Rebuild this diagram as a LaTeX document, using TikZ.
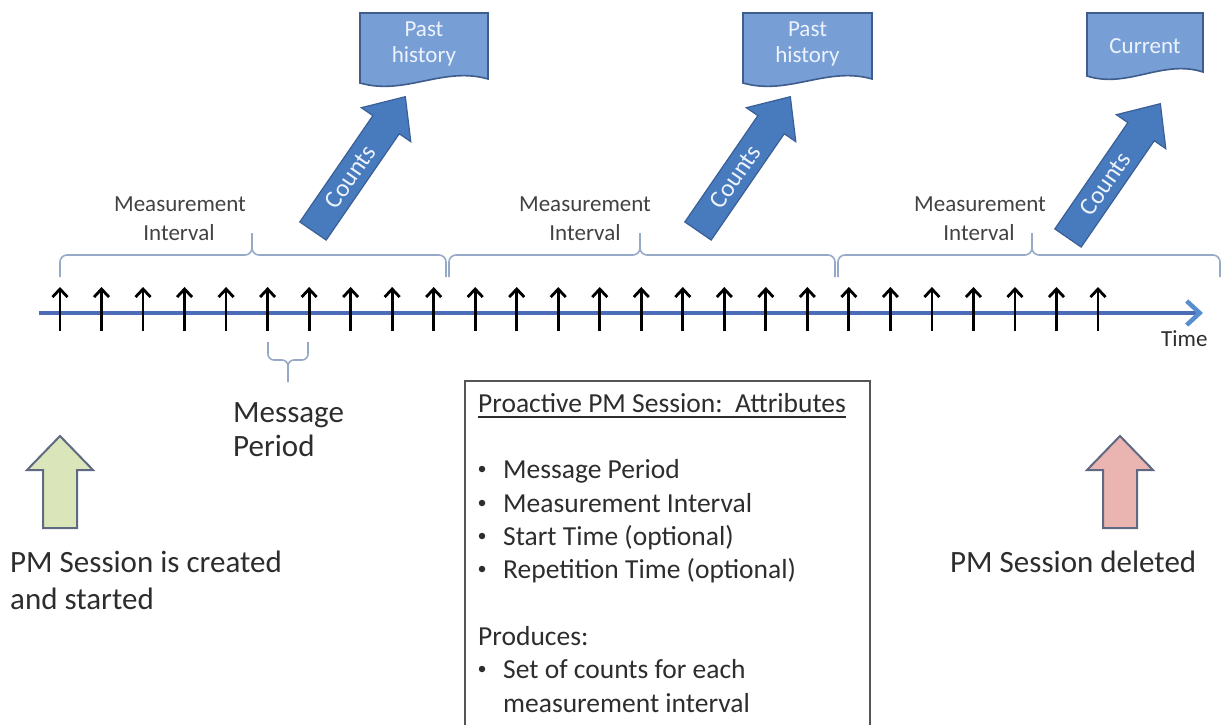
\documentclass[tikz,border=0pt]{standalone}
\usepackage{fontspec}
\setmainfont{Carlito}
\usetikzlibrary{arrows.meta}
\definecolor{txt}{RGB}{45,45,45}
\definecolor{lineblue}{RGB}{75,108,182}
\definecolor{headblue}{RGB}{88,142,208}
\definecolor{bracec}{RGB}{150,170,200}
\definecolor{docfill}{RGB}{120,158,214}
\definecolor{docdraw}{RGB}{62,92,140}
\definecolor{docfont}{RGB}{236,243,252}
\definecolor{cntfill}{RGB}{72,122,190}
\definecolor{cntdraw}{RGB}{58,95,150}
\definecolor{startfill}{RGB}{218,230,186}
\definecolor{endfill}{RGB}{234,180,176}
\definecolor{fatdraw}{RGB}{95,105,130}
\definecolor{boxdraw}{RGB}{85,85,85}
\newcommand\fs[1]{\fontsize{#1}{#1}\selectfont}
\newcommand\upbrace[3]{%
  \draw[brc] (#1,277) -- (#1,255) -- (#3,255) -- (#3,233);
  \draw[brc] (#2,277) -- (#2,255) -- (#3,255) -- (#3,233);}
\newcommand\countsarrow[2]{%
  \begin{scope}[shift={#2}, rotate=55.5]
    \draw[cnt] (0,-16) -- (129,-16) -- (129,-30) -- (163,0) -- (129,30) -- (129,16) -- (0,16) -- cycle;
    \node[cnttxt] (#1) at (66,0) {Counts};
  \end{scope}}
\newcommand\docshape[5]{% x0, x1, yleft, yright, name
  \draw[doc] (#1,13) -- (#2,13) -- (#2,#4)
    .. controls ({#2-0.35*(#2-#1)},{#4-13}) and ({#1+0.35*(#2-#1)},{#3+13}) .. (#1,#3) -- cycle;
  \coordinate (#5) at ({(#1+#2)/2},13);}
\begin{document}
\begin{tikzpicture}[x=1pt,y=-1pt,
  lbl/.style={inner sep=0pt, anchor=base west, text=txt, font=\fs{31}},
  mlbl/.style={inner sep=0pt, anchor=base, text=txt!90!white, font=\fs{23}},
  boxtxt/.style={inner sep=0pt, anchor=base west, text=txt, font=\fs{27.5}},
  bullet/.style={circle, fill=txt, inner sep=0pt, minimum size=6.5pt},
  doctxt/.style={inner sep=0pt, anchor=base, text=docfont, font=\fs{23}},
  cnttxt/.style={inner sep=0pt, rotate=55.5, text=docfont, font=\fs{25}},
  brc/.style={draw=bracec, line width=1.6pt, rounded corners=7pt},
  doc/.style={draw=docdraw, fill=docfill, line width=1.6pt},
  cnt/.style={draw=cntdraw, fill=cntfill, line width=1.2pt},
  tick/.style={black, line width=2.8pt, -{Straight Barb[length=8pt,width=15pt]}},
  timeline/.style={lineblue, line width=4.5pt, -{Straight Barb[length=13pt,width=24pt,color=headblue]}},
  fat/.style={draw=fatdraw, line width=2pt, line join=miter}]
\useasboundingbox (0,0) rectangle (1221,725);
\clip (0,0) rectangle (1221,725);

% documents
\docshape{360}{488}{83}{79}{d1}
\docshape{743}{872}{83}{79}{d2}
\docshape{1087}{1203}{76}{72}{d3}
\node[doctxt] (past1) at (424,37) {Past};
\node[doctxt] (hist1) at (424,63) {history};
\node[doctxt] (past2) at (807.5,37) {Past};
\node[doctxt] (hist2) at (807.5,63) {history};
\node[doctxt] (curr) at (1145,54) {Current};

% counts arrows
\countsarrow{c1}{(313,231)}
\countsarrow{c2}{(698,231)}
\countsarrow{c3}{(1068,238)}

% measurement interval labels
\node[mlbl] (m1a) at (180,211) {Measurement};
\node[mlbl] (m1b) at (179,240) {Interval};
\node[mlbl] (m2a) at (585,211) {Measurement};
\node[mlbl] (m2b) at (585,240) {Interval};
\node[mlbl] (m3a) at (980,211) {Measurement};
\node[mlbl] (m3b) at (979,240) {Interval};

% braces
\upbrace{60}{446}{252}
\upbrace{449}{835}{640}
\upbrace{838}{1220}{1032}
\draw[brc, rounded corners=6pt] (268,342) -- (268,360) -- (288,360) -- (288,382);
\draw[brc, rounded corners=6pt] (308,342) -- (308,360) -- (288,360) -- (288,382);

% timeline
\coordinate (tl0) at (39,313);
\coordinate (tl1) at (1203,313);
\draw[timeline] (tl0) -- (tl1);
\foreach \i in {0,...,25}{
  \coordinate (tb\i) at ({60+\i*41.52},331);
  \coordinate (tt\i) at ({60+\i*41.52},287);
  \draw[tick] (tb\i) -- (tt\i);
}
\node[inner sep=0pt, anchor=base west, text=txt, font=\fs{23}] (time) at (1161,346) {Time};

% message period
\node[lbl] (mp1) at (233,422) {Message};
\node[lbl] (mp2) at (233,456) {Period};

% fat arrows
\draw[fat, fill=startfill] (43,528) -- (43,470) -- (27,470) -- (60,436) -- (93,470) -- (77,470) -- (77,528) -- cycle;
\draw[fat, fill=endfill] (1103,528) -- (1103,470) -- (1087,470) -- (1120,436) -- (1153,470) -- (1137,470) -- (1137,528) -- cycle;
\node[lbl] (cr1) at (10,572) {PM Session is created};
\node[lbl] (cr2) at (10,609) {and started};
\node[lbl] (del) at (950,572) {PM Session deleted};

% attribute box
\draw[boxdraw, line width=1.8pt] (465,740) -- (465,381) -- (870,381) -- (870,740);
\node[boxtxt] (title) at (478,412) {Proactive PM Session:\ \ Attributes};
\draw[txt, line width=1.4pt] ([yshift=-5pt]title.base west) -- ([yshift=-5pt]title.base east);
\foreach \y/\t [count=\k] in {478/Message Period, 512/Measurement Interval, 545/Start Time (optional), 578/Repetition Time (optional), 678/Set of counts for each}{
  \node[bullet] (bul\k) at (482,{\y-9}) {};
  \node[boxtxt] (item\k) at (503,\y) {\t};
}
\node[boxtxt] (prod) at (478,645) {Produces:};
\node[boxtxt] (item6) at (503,712) {measurement interval};
\end{tikzpicture}
\end{document}
